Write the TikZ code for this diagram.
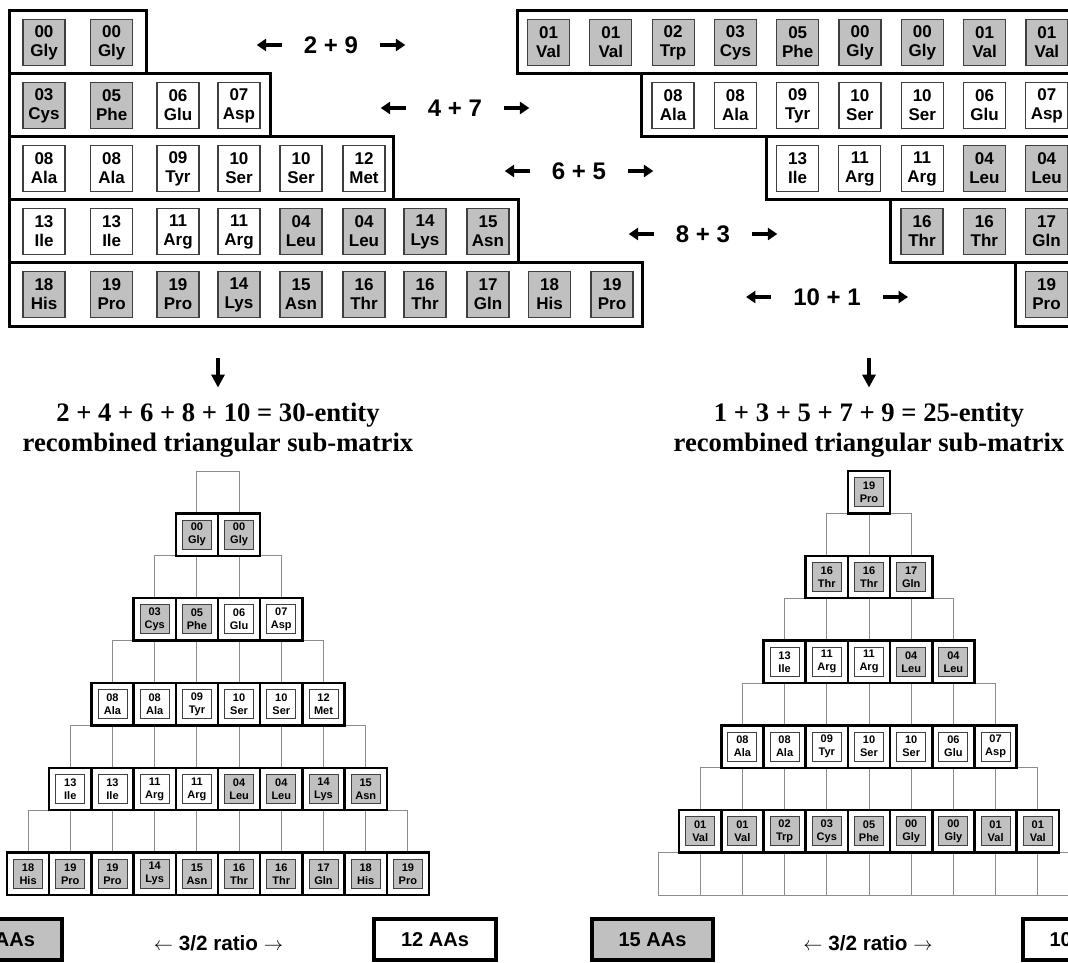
\documentclass[tikz,border=0pt]{standalone}
\usepackage{fontspec}
\setmainfont{Liberation Serif}
\setsansfont{Liberation Sans}
\usepackage{tikz}
\usetikzlibrary{arrows.meta}
\usetikzlibrary{positioning}
\definecolor{aagray}{HTML}{C0C0C0}
\definecolor{gridgray}{HTML}{8C8C8C}
\definecolor{edgegray}{HTML}{404040}
\tikzset{
    rowframe/.style={draw=black, line width=2.25pt},
    aabig/.style={draw=edgegray, line width=0.9pt, minimum width=31.5pt, minimum height=34.5pt,
        inner sep=0pt, align=center, font=\sffamily\bfseries\fontsize{12.75}{14.25}\selectfont},
    aasmall/.style={draw=edgegray, line width=0.7pt, minimum width=21.75pt, minimum height=21.75pt,
        inner sep=0pt, align=center, font=\sffamily\bfseries\fontsize{8.25}{9.75}\selectfont},
    gridcell/.style={draw=gridgray, line width=0.75pt},
    occcell/.style={draw=black, line width=1.9pt},
    sumlabel/.style={font=\sffamily\bfseries\fontsize{18}{20}\selectfont, inner sep=0pt},
    sumarrow/.style={-{Triangle[width=9pt,length=7pt]}, line width=3pt},
    title/.style={font=\rmfamily\bfseries\fontsize{20}{22.5}\selectfont, align=center, inner sep=0pt},
    bigdown/.style={-{Triangle[width=9.75pt,length=9.75pt]}, line width=3pt},
    countbox/.style={draw=black, line width=3pt, minimum width=91pt, minimum height=31pt,
        font=\sffamily\bfseries\fontsize{15}{18}\selectfont},
    ratio/.style={font=\sffamily\bfseries\fontsize{15.5}{18}\selectfont, inner sep=0pt},
}

\begin{document}
\begin{tikzpicture}[x=0.75pt, y=-0.75pt]
	\useasboundingbox (0,0) rectangle (1068,963);
	\clip (0,0) rectangle (1068,963);
	% row frames of the two staircases
	\foreach \rx [count=\rw] in {146,270,393,518,642}
		\draw[rowframe] (9,{11+63*(\rw-1)}) rectangle (\rx,{74+63*(\rw-1)});
	\foreach \rw in {1,...,5}
		\draw[rowframe] ({517+124.5*(\rw-1)},{11+63*(\rw-1)}) rectangle (1085,{74+63*(\rw-1)});
	\foreach \lft/\rgt [count=\rw] in {2/9,4/7,6/5,8/3,10/1}{
		\node[sumlabel] (sum\rw) at ({331+124*(\rw-1)},{45+63*(\rw-1)}) {\lft{} + \rgt};
		\draw[sumarrow] ([xshift=-16.5pt]sum\rw.west) -- ++(-18.75pt,0);
		\draw[sumarrow] ([xshift=16.5pt]sum\rw.east) -- ++(18.75pt,0);
	}
	% empty pyramid grids
	\foreach \i in {1,...,10}
		\foreach \j in {1,...,\i}{
			\draw[gridcell] ({218-\i*21.1+(\j-1)*42.2},{471+(\i-1)*42.4}) rectangle ++(42.2,42.4);
			\draw[gridcell] ({869-\i*21.1+(\j-1)*42.2},{471+(\i-1)*42.4}) rectangle ++(42.2,42.4);
		}
	% left half: staircase cells and even pyramid rows
	\foreach \rw/\cl/\nr/\nm/\fl in {
		1/1/00/Gly/aagray, 1/2/00/Gly/aagray,
		2/1/03/Cys/aagray, 2/2/05/Phe/aagray, 2/3/06/Glu/white, 2/4/07/Asp/white,
		3/1/08/Ala/white, 3/2/08/Ala/white, 3/3/09/Tyr/white, 3/4/10/Ser/white, 3/5/10/Ser/white, 3/6/12/Met/white,
		4/1/13/Ile/white, 4/2/13/Ile/white, 4/3/11/Arg/white, 4/4/11/Arg/white,
		4/5/04/Leu/aagray, 4/6/04/Leu/aagray, 4/7/14/Lys/aagray, 4/8/15/Asn/aagray,
		5/1/18/His/aagray, 5/2/19/Pro/aagray, 5/3/19/Pro/aagray, 5/4/14/Lys/aagray, 5/5/15/Asn/aagray,
		5/6/16/Thr/aagray, 5/7/16/Thr/aagray, 5/8/17/Gln/aagray, 5/9/18/His/aagray, 5/10/19/Pro/aagray}{
		\pgfmathsetmacro{\tx}{{44,111.7,178,239,301,364,425,488,549.5,612}[\cl-1]}
		\node[aabig, fill=\fl] (tl-\rw-\cl) at (\tx,{42.5+63*(\rw-1)}) {\nr\\\nm};
		\pgfmathsetmacro{\px}{218-\rw*42.2+(\cl-0.5)*42.2}
		\pgfmathsetmacro{\py}{471+(2*\rw-0.5)*42.4}
		\draw[occcell] ({\px-21.1},{\py-21.2}) rectangle ({\px+21.1},{\py+21.2});
		\node[aasmall, fill=\fl] (pl-\rw-\cl) at (\px,\py) {\nr\\\nm};
	}
	% right half: staircase cells and odd pyramid rows
	\foreach \rw/\cl/\nr/\nm/\fl in {
		1/1/01/Val/aagray, 1/2/01/Val/aagray, 1/3/02/Trp/aagray, 1/4/03/Cys/aagray, 1/5/05/Phe/aagray,
		1/6/00/Gly/aagray, 1/7/00/Gly/aagray, 1/8/01/Val/aagray, 1/9/01/Val/aagray,
		2/1/08/Ala/white, 2/2/08/Ala/white, 2/3/09/Tyr/white, 2/4/10/Ser/white, 2/5/10/Ser/white,
		2/6/06/Glu/white, 2/7/07/Asp/white,
		3/1/13/Ile/white, 3/2/11/Arg/white, 3/3/11/Arg/white, 3/4/04/Leu/aagray, 3/5/04/Leu/aagray,
		4/1/16/Thr/aagray, 4/2/16/Thr/aagray, 4/3/17/Gln/aagray,
		5/1/19/Pro/aagray}{
		\node[aabig, fill=\fl] (tr-\rw-\cl) at ({548.5+124.5*(\rw-1)+62.3*(\cl-1)},{42.5+63*(\rw-1)}) {\nr\\\nm};
		\pgfmathsetmacro{\px}{869-(11-2*\rw)*21.1+(\cl-0.5)*42.2}
		\pgfmathsetmacro{\py}{471+(10.5-2*\rw)*42.4}
		\draw[occcell] ({\px-21.1},{\py-21.2}) rectangle ({\px+21.1},{\py+21.2});
		\node[aasmall, fill=\fl] (pr-\rw-\cl) at (\px,\py) {\nr\\\nm};
	}
	% titles and arrows
	\node[title] (titleL) at (218,430) {2 + 4 + 6 + 8 + 10 = 30-entity\\recombined triangular sub-matrix};
	\node[title] (titleR) at (869,430) {1 + 3 + 5 + 7 + 9 = 25-entity\\recombined triangular sub-matrix};
	\coordinate (dnL) at (218,358);
	\coordinate (dnR) at (869,358);
	\draw[bigdown, shorten >=11.25pt] (dnL) -- (dnL |- titleL.north);
	\draw[bigdown, shorten >=11.25pt] (dnR) -- (dnR |- titleR.north);
	% counts
	\node[countbox, fill=aagray] (cntL1) at (1,939.5) {18 AAs};
	\node[ratio] (ratL) at (218.5,943) {$\leftarrow$ 3/2 ratio $\rightarrow$};
	\node[countbox, fill=white] (cntL2) at (435,939.5) {12 AAs};
	\node[countbox, fill=aagray] (cntR1) at (652.5,939.5) {15 AAs};
	\node[ratio] (ratR) at (868,943) {$\leftarrow$ 3/2 ratio $\rightarrow$};
	\node[countbox, fill=white] (cntR2) at (1083.5,939.5) {10 AAs};
\end{tikzpicture}
\end{document}
